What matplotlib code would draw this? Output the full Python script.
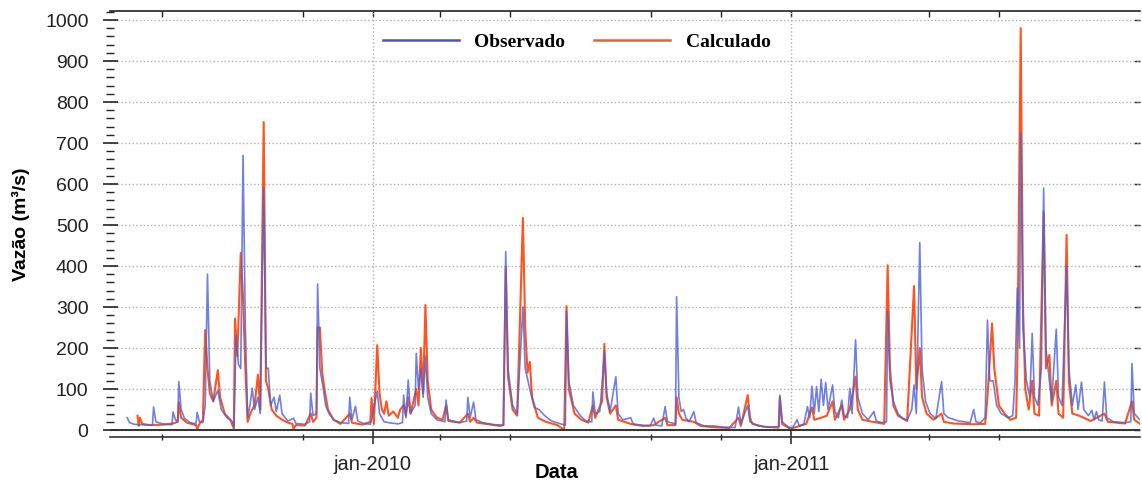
import matplotlib
matplotlib.use('Agg')
import matplotlib.pyplot as plt
import matplotlib.dates as mdates
from matplotlib.lines import Line2D
from matplotlib.ticker import MultipleLocator, FixedLocator, NullFormatter
import pandas as pd

plt.rcParams['font.family'] = ['Liberation Sans', 'DejaVu Sans']

# dias contados a partir de 01/06/2009
inicio = pd.Timestamp('2009-06-01')

obs_dia = [0, 2, 6, 12, 22, 23, 25, 32, 39, 40, 42, 44, 45, 47, 50, 55, 60, 61, 63, 66,
           68, 70, 72, 75, 79, 82, 87, 92, 93, 95, 97, 99, 101, 103, 105, 107, 109, 111, 114, 116,
           119, 121, 123, 125, 128, 130, 133, 135, 140, 145, 147, 155, 159, 160, 162, 165, 166, 168, 171, 173,
           176, 180, 186, 193, 194, 196, 199, 201, 206, 212, 218, 220, 224, 230, 236, 240, 241, 243, 245, 247,
           251, 252, 254, 256, 258, 260, 262, 265, 270, 277, 278, 280, 290, 296, 297, 299, 302, 304, 310, 320,
           328, 330, 332, 336, 340, 345, 347, 351, 355, 359, 364, 370, 378, 382, 383, 385, 389, 395, 400, 405,
           406, 408, 412, 414, 416, 418, 421, 426, 428, 432, 439, 441, 448, 456, 459, 461, 466, 469, 471, 478,
           479, 481, 483, 485, 487, 490, 494, 496, 503, 511, 520, 530, 533, 535, 541, 543, 550, 560, 568, 569,
           571, 576, 580, 584, 586, 590, 593, 595, 597, 599, 601, 603, 605, 607, 609, 611, 615, 617, 620, 623,
           625, 628, 630, 632, 635, 637, 641, 646, 651, 653, 658, 662, 663, 665, 668, 672, 676, 680, 684, 686,
           688, 691, 693, 696, 700, 705, 710, 712, 716, 725, 735, 738, 740, 744, 748, 750, 752, 755, 758, 762,
           768, 772, 774, 776, 778, 779, 781, 784, 787, 789, 791, 794, 797, 799, 801, 804, 806, 810, 812, 815,
           819, 821, 824, 827, 829, 832, 834, 838, 841, 843, 845, 847, 850, 852, 854, 860, 870, 875, 876, 878,
           883]
obs_vazao = [30, 18, 14, 13, 12, 56, 20, 14, 13, 44, 25, 20, 118, 50, 28, 18, 15, 43, 20, 18,
             60, 380, 120, 70, 97, 50, 30, 20, 8, 230, 160, 150, 670, 250, 30, 60, 102, 50, 80, 40,
             590, 150, 151, 60, 80, 45, 85, 40, 22, 29, 16, 14, 20, 90, 35, 40, 356, 150, 100, 60,
             40, 25, 18, 16, 80, 25, 58, 22, 16, 14, 95, 40, 20, 17, 15, 18, 85, 30, 122, 40,
             60, 187, 100, 150, 80, 180, 80, 40, 25, 20, 73, 25, 18, 22, 80, 30, 68, 25, 18, 13,
             12, 435, 150, 60, 40, 300, 150, 100, 55, 50, 35, 22, 15, 12, 290, 120, 60, 35, 22, 20,
             93, 40, 45, 110, 190, 90, 45, 130, 40, 25, 30, 15, 12, 10, 29, 12, 10, 57, 20, 15,
             325, 80, 45, 50, 30, 20, 45, 18, 10, 10, 7, 6, 56, 15, 60, 20, 10, 7, 8, 85,
             20, 8, 5, 25, 10, 15, 57, 30, 107, 40, 106, 45, 124, 60, 116, 50, 110, 45, 30, 73,
             35, 30, 102, 40, 220, 80, 40, 25, 45, 22, 18, 20, 290, 120, 70, 40, 28, 24, 50, 110,
             40, 457, 150, 70, 40, 28, 118, 40, 30, 22, 18, 50, 20, 18, 30, 268, 120, 120, 60, 40,
             30, 35, 117, 346, 200, 724, 250, 120, 80, 236, 80, 60, 150, 590, 200, 120, 70, 246, 80, 60,
             400, 150, 60, 110, 50, 117, 50, 35, 48, 25, 45, 25, 22, 117, 30, 20, 18, 20, 162, 40,
             25]

calc_dia = [9, 10, 11, 13, 20, 30, 40, 44, 45, 47, 52, 60, 61, 63, 66, 68, 70, 72, 75, 79,
            81, 85, 90, 93, 94, 96, 99, 101, 103, 105, 108, 111, 114, 116, 119, 121, 123, 126, 130, 135,
            140, 144, 145, 147, 155, 160, 162, 165, 166, 168, 170, 172, 175, 180, 186, 194, 196, 205, 212, 213,
            215, 218, 220, 222, 224, 226, 228, 232, 236, 238, 241, 243, 245, 247, 252, 254, 256, 258, 260, 262,
            265, 270, 275, 278, 280, 290, 297, 299, 302, 305, 315, 325, 328, 330, 332, 336, 340, 345, 347, 349,
            351, 353, 358, 365, 375, 381, 383, 385, 390, 396, 402, 406, 408, 414, 416, 418, 421, 426, 428, 440,
            450, 459, 469, 471, 478, 479, 481, 484, 494, 500, 510, 525, 533, 535, 541, 543, 545, 555, 568, 569,
            571, 578, 584, 592, 597, 599, 605, 610, 615, 617, 623, 625, 630, 635, 637, 641, 650, 660, 663, 665,
            668, 672, 680, 686, 688, 691, 693, 697, 703, 710, 712, 720, 737, 748, 750, 754, 756, 760, 765, 770,
            775, 776, 779, 781, 783, 786, 789, 791, 795, 799, 801, 804, 806, 810, 812, 816, 819, 821, 824, 830,
            840, 852, 855, 870, 876, 878, 883]
calc_vazao = [35, 10, 30, 15, 12, 13, 16, 20, 68, 30, 18, 12, 2, 15, 25, 244, 150, 90, 70, 146,
              80, 40, 25, 3, 272, 180, 432, 320, 150, 20, 45, 60, 135, 50, 751, 120, 100, 50, 35, 25,
              18, 15, 3, 12, 11, 40, 20, 30, 251, 250, 140, 100, 50, 25, 15, 40, 18, 13, 20, 78,
              15, 207, 90, 50, 40, 70, 35, 45, 30, 50, 60, 35, 80, 40, 100, 60, 200, 90, 305, 120,
              50, 30, 25, 60, 22, 18, 40, 20, 30, 18, 14, 10, 12, 398, 130, 50, 35, 517, 250, 140,
              166, 80, 30, 20, 12, 0, 302, 100, 40, 25, 18, 60, 30, 70, 210, 80, 40, 60, 25, 14,
              10, 12, 30, 12, 12, 80, 40, 25, 20, 10, 7, 5, 30, 10, 85, 30, 15, 8, 6, 80,
              15, 3, 8, 15, 55, 25, 30, 35, 70, 25, 60, 25, 50, 130, 50, 25, 20, 15, 402, 150,
              60, 35, 22, 351, 100, 200, 80, 40, 25, 40, 20, 16, 14, 15, 80, 260, 150, 60, 40, 25,
              30, 150, 980, 300, 100, 50, 120, 40, 35, 533, 150, 183, 60, 120, 40, 30, 476, 120, 40, 35,
              22, 40, 20, 16, 70, 25, 15]

major_datas = ['2010-01-01', '2011-01-01']
major_rotulos = ['jan-2010', 'jan-2011']
minor_datas = ['2009-07-01', '2009-11-01', '2010-03-01', '2010-05-01',
               '2010-09-01', '2010-11-01', '2011-05-01', '2011-07-01']

x_obs = mdates.date2num(inicio + pd.to_timedelta(obs_dia, unit='D'))
x_calc = mdates.date2num(inicio + pd.to_timedelta(calc_dia, unit='D'))
x_major = mdates.date2num(pd.to_datetime(major_datas))
x_minor = mdates.date2num(pd.to_datetime(minor_datas))

azul = '#4c60d6'
laranja = '#ff4a14'

fig = plt.figure(figsize=(11.42, 4.8), dpi=100)
ax = fig.add_axes([110 / 1142, 43 / 480, 1030 / 1142, 426 / 480])

ax.plot(x_calc, calc_vazao, color=laranja, lw=1.5, alpha=0.95, zorder=3)
ax.plot(x_obs, obs_vazao, color=azul, lw=1.2, alpha=0.8, zorder=4)
ax.axhline(0, color='#333333', lw=1.4, zorder=5)

ax.set_xlim(mdates.date2num(pd.Timestamp('2009-05-17')), mdates.date2num(pd.Timestamp('2011-11-01')))
ax.set_ylim(-17, 1022)

ax.yaxis.set_major_locator(MultipleLocator(100))
ax.yaxis.set_minor_locator(MultipleLocator(20))
ax.xaxis.set_major_locator(FixedLocator(x_major))
ax.xaxis.set_minor_locator(FixedLocator(x_minor))
ax.set_xticklabels(major_rotulos)
ax.xaxis.set_minor_formatter(NullFormatter())

ax.tick_params(axis='y', which='major', direction='inout', length=10.8, width=1.2,
               labelsize=14, pad=10, colors='#222222')
ax.tick_params(axis='y', which='minor', direction='inout', length=5.5, width=1.0, color='#222222')
ax.tick_params(axis='x', which='major', direction='inout', length=10, width=1.1,
               labelsize=14.5, pad=8, colors='#222222')
ax.tick_params(axis='x', which='minor', direction='inout', length=5, width=1.0, color='#222222')

ax.grid(True, which='major', linestyle=':', color='#b0b0b0', lw=1.0, zorder=0)

for lado in ['left', 'right']:
    ax.spines[lado].set_visible(False)
ax.spines['bottom'].set_color('#333333')
ax.spines['top'].set_color('#222222')
ax.spines['bottom'].set_linewidth(1.2)
ax.spines['top'].set_linewidth(1.2)

topo = ax.secondary_xaxis('top')
topo.set_xticks(x_major)
topo.set_xticks(x_minor, minor=True)
topo.set_xticklabels([])
topo.tick_params(which='both', direction='in', length=4, width=1.0, color='#222222')
topo.spines['top'].set_visible(False)

direita = ax.secondary_yaxis('right')
direita.set_yticks(range(0, 1001, 100))
direita.set_yticklabels([])
direita.tick_params(direction='in', length=4, width=1.0, color='#222222')
direita.spines['right'].set_visible(False)

ax.set_ylabel('Vazão (m³/s)', fontsize=14, fontweight='bold')
ax.yaxis.set_label_coords(-0.078, 0.5)
ax.set_xlabel('Data', fontsize=14.5, fontweight='bold')
ax.xaxis.set_label_coords((557 - 110) / 1030, -0.061)
ax.xaxis.label.set_va('top')

alcas = [Line2D([], [], color='#4b56b0', lw=1.8), Line2D([], [], color='#e0643c', lw=1.8)]
ax.legend(alcas, ['Observado', 'Calculado'], loc='center', bbox_to_anchor=(0.453, 0.927),
          ncol=2, frameon=False, handlelength=3.9, handletextpad=0.8, columnspacing=1.5,
          prop=dict(family='Liberation Serif', weight='bold', size=14))

fig.savefig('out.png', dpi=100)
